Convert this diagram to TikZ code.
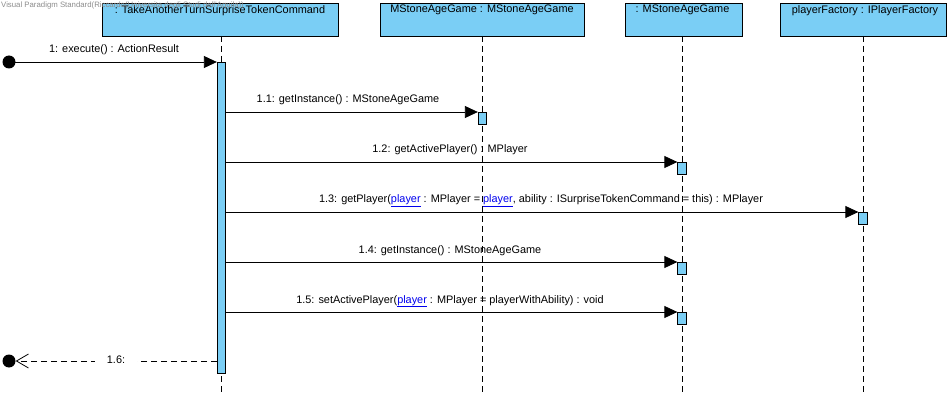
\documentclass[tikz,border=0pt]{standalone}
\usepackage{fontspec}
\setmainfont{Liberation Sans}
\usetikzlibrary{arrows.meta}
\definecolor{lifefill}{RGB}{122,206,245}
\definecolor{linkblue}{RGB}{0,0,238}
\newcommand{\lnk}[1]{\textcolor{linkblue}{\underline{#1}}}
\tikzset{
  every node/.style={font=\fontsize{10.9}{12}\selectfont, inner sep=0pt},
  headbox/.style={draw=black, fill=lifefill, line width=0.8pt},
  headtext/.style={anchor=north},
  lifeline/.style={dash pattern=on 6pt off 4pt, line width=0.8pt},
  actbar/.style={draw=black, fill=lifefill, line width=0.8pt, minimum width=8.5pt, anchor=north},
  callmsg/.style={line width=0.8pt, -{Triangle[length=13pt,width=12pt]}},
  retmsg/.style={line width=0.8pt, dash pattern=on 6pt off 4pt, -{Straight Barb[length=12pt,width=14pt]}},
  msglabel/.style={anchor=base},
  gate/.style={circle, fill=black, minimum size=13pt, inner sep=0pt},
}
\begin{document}
\begin{tikzpicture}[x=1pt,y=-1pt]
\useasboundingbox (0,0) rectangle (950,398);
% lifeline heads
\draw[headbox] (102,3) rectangle (338,36);
\node[headtext] (h1) at (220,5) {: TakeAnotherTurnSurpriseTokenCommand};
\draw[headbox] (380,3) rectangle (584,36);
\node[headtext] (h2) at (482,5) {MStoneAgeGame : MStoneAgeGame};
\draw[headbox] (625,3) rectangle (742,36);
\node[headtext] (h3) at (682.5,5) {: MStoneAgeGame};
\draw[headbox] (780,3) rectangle (946,36);
\node[headtext] (h4) at (865,5) {playerFactory : IPlayerFactory};
% watermark
\node[anchor=north west, text=black!45, font=\fontsize{7.8}{8}\selectfont] (wm) at (1,2) {Visual Paradigm Standard(Riccardo(Universita degli Studi dell'Aquila))};
% lifelines
\coordinate (l1a) at (221.5,36); \coordinate (l1b) at (221.5,395);
\coordinate (l2a) at (482.5,36); \coordinate (l2b) at (482.5,395);
\coordinate (l3a) at (682,36); \coordinate (l3b) at (682,395);
\coordinate (l4a) at (863,36); \coordinate (l4b) at (863,395);
\draw[lifeline] (l1a) -- (l1b);
\draw[lifeline] (l2a) -- (l2b);
\draw[lifeline] (l3a) -- (l3b);
\draw[lifeline] (l4a) -- (l4b);
% activation bars
\node[actbar, minimum height=311pt] (a1) at (221.5,62) {};
\node[actbar, minimum height=12pt] (a2) at (482.5,112) {};
\node[actbar, minimum height=12pt] (a3) at (682,162) {};
\node[actbar, minimum height=12pt] (a4) at (863,212) {};
\node[actbar, minimum height=12pt] (a5) at (682,262) {};
\node[actbar, minimum height=12pt] (a6) at (682,312) {};
% found message and reply gates
\node[gate] (g1) at (9,62) {};
\node[gate] (g2) at (9,361) {};
% messages
\draw[callmsg] (g1.center) -- (a1.north west);
\node[msglabel] (m1) at (114,53) {1: execute() : ActionResult};
\draw[callmsg] (a1.east |- a2.north) -- (a2.north west);
\node[msglabel] (m2) at (348,103) {1.1: getInstance() : MStoneAgeGame};
\draw[callmsg] (a1.east |- a3.north) -- (a3.north west);
\node[msglabel] (m3) at (450,153) {1.2: getActivePlayer() : MPlayer};
\draw[callmsg] (a1.east |- a4.north) -- (a4.north west);
\node[msglabel] (m4) at (541,203) {1.3: getPlayer(\lnk{player} : MPlayer = \lnk{player}, ability : ISurpriseTokenCommand = this) : MPlayer};
\draw[callmsg] (a1.east |- a5.north) -- (a5.north west);
\node[msglabel] (m5) at (450,253) {1.4: getInstance() : MStoneAgeGame};
\draw[callmsg] (a1.east |- a6.north) -- (a6.north west);
\node[msglabel] (m6) at (450,303) {1.5: setActivePlayer(\lnk{player} : MPlayer = playerWithAbility) : void};
% reply
\coordinate (r1) at (217,361);
\draw[retmsg] (r1) -- (g2.east);
\node[fill=white, inner xsep=12pt, inner ysep=3pt] (m7) at (116,360) {1.6:};
\end{tikzpicture}
\end{document}
